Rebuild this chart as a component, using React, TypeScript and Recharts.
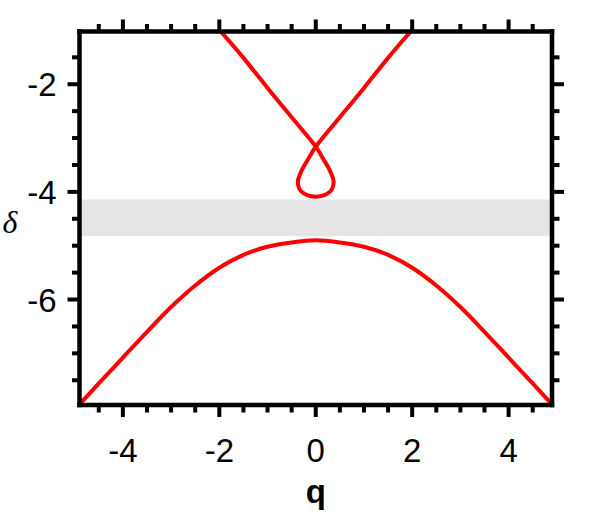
import React from 'react';
import { LineChart, Line, XAxis, YAxis, ReferenceArea, Label } from 'recharts';

// Upper curve (loop), traversed in order
const upperQ = [-1.97, -1.5, -1.0, -0.53, -0.25, 0, 0.15, 0.25, 0.33, 0.37, 0.35, 0.29, 0.18, 0, -0.18, -0.29, -0.35, -0.37, -0.33, -0.25, -0.15, 0, 0.25, 0.53, 1.0, 1.5, 1.97];
const upperD = [-1.02, -1.51, -2.07, -2.58, -2.88, -3.16, -3.38, -3.53, -3.68, -3.8, -3.92, -4.0, -4.06, -4.09, -4.06, -4.0, -3.92, -3.8, -3.68, -3.53, -3.38, -3.16, -2.88, -2.58, -2.07, -1.51, -1.02];

// Lower curve
const lowerQ = [-4.9, -4.5, -4.0, -3.5, -3.0, -2.5, -2.0, -1.5, -1.0, -0.5, 0, 0.5, 1.0, 1.5, 2.0, 2.5, 3.0, 3.5, 4.0, 4.5, 4.9];
const lowerD = [-7.95, -7.56, -7.08, -6.6, -6.14, -5.74, -5.41, -5.17, -5.02, -4.94, -4.9, -4.94, -5.02, -5.17, -5.41, -5.74, -6.14, -6.6, -7.08, -7.56, -7.95];

// Gray band
const bandLow = -4.826;
const bandHigh = -4.143;

const xDomain = [-4.9, 4.9];
const yDomain = [-7.96, -1.02];
const xTicks = [-4.5, -4, -3.5, -3, -2.5, -2, -1.5, -1, -0.5, 0, 0.5, 1, 1.5, 2, 2.5, 3, 3.5, 4, 4.5];
const yTicks = [-7.5, -7, -6.5, -6, -5.5, -5, -4.5, -4, -3.5, -3, -2.5, -2, -1.5];

const upperData = upperQ.map((q, i) => ({ q, d: upperD[i] }));
const lowerData = lowerQ.map((q, i) => ({ q, d: lowerD[i] }));

const FONT = '"Liberation Sans", Arial, sans-serif';
const isMajor = (v: number) => Number.isInteger(v) && v % 2 === 0;

const makeTick = (side: string, labels: boolean) => (props: any) => {
  const { x, y, payload } = props;
  const v = payload.value;
  const major = isMajor(v);
  const len = major ? 12 : 7.5;
  let x2 = x, y2 = y;
  if (side === 'bottom') y2 = y + len;
  if (side === 'top') y2 = y - len;
  if (side === 'left') x2 = x - len;
  if (side === 'right') x2 = x + len;
  const showLabel = labels && major;
  return (
    <g>
      <line x1={x} y1={y} x2={x2} y2={y2} stroke="#000" strokeWidth={4} />
      {showLabel && side === 'bottom' && (
        <text x={x} y={y + 57} textAnchor="middle" fontFamily={FONT} fontSize={33} fill="#000">{String(v)}</text>
      )}
      {showLabel && side === 'left' && (
        <text x={x - 23} y={y + 12} textAnchor="end" fontFamily={FONT} fontSize={33} fill="#000">{String(v)}</text>
      )}
    </g>
  );
};

const axisLineStyle = { stroke: '#000', strokeWidth: 4.5, strokeLinecap: 'square' as const };

export default function App() {
  return (
    <div style={{ position: 'absolute', left: 0, top: 0, background: '#fff' }}>
      <LineChart width={606} height={517} margin={{ top: 0, right: 0, bottom: 0, left: 0 }}>
        <XAxis
          xAxisId={0}
          dataKey="q"
          type="number"
          domain={xDomain}
          allowDataOverflow
          ticks={xTicks}
          interval={0}
          orientation="bottom"
          height={112}
          tickSize={0}
          tickMargin={0}
          tickLine={false}
          axisLine={axisLineStyle}
          tick={makeTick('bottom', true)}
        >
          <Label
            content={(p: any) => {
              const vb = p.viewBox || { x: 79.5, y: 405, width: 472.5 };
              return (
                <text x={vb.x + vb.width / 2} y={vb.y + 98} textAnchor="middle" fontFamily={FONT} fontWeight="bold" fontSize={33} fill="#000">q</text>
              );
            }}
          />
        </XAxis>
        <XAxis
          xAxisId="top"
          dataKey="q"
          type="number"
          domain={xDomain}
          allowDataOverflow
          ticks={xTicks}
          interval={0}
          orientation="top"
          height={31.5}
          tickSize={0}
          tickMargin={0}
          tickLine={false}
          axisLine={axisLineStyle}
          tick={makeTick('top', false)}
        />
        <YAxis
          yAxisId={0}
          type="number"
          domain={yDomain}
          allowDataOverflow
          ticks={yTicks}
          interval={0}
          orientation="left"
          width={79.5}
          tickSize={0}
          tickMargin={0}
          tickLine={false}
          axisLine={axisLineStyle}
          tick={makeTick('left', true)}
        >
          <Label
            content={() => (
              <text x={10} y={233} textAnchor="middle" fontFamily='"Liberation Serif", "Times New Roman", serif' fontStyle="italic" fontSize={32} fill="#000">δ</text>
            )}
          />
        </YAxis>
        <YAxis
          yAxisId="right"
          type="number"
          domain={yDomain}
          allowDataOverflow
          ticks={yTicks}
          interval={0}
          orientation="right"
          width={54}
          tickSize={0}
          tickMargin={0}
          tickLine={false}
          axisLine={axisLineStyle}
          tick={makeTick('right', false)}
        />
        <ReferenceArea
          xAxisId={0}
          yAxisId={0}
          x1={xDomain[0]}
          x2={xDomain[1]}
          y1={bandLow}
          y2={bandHigh}
          fill="#e5e5e5"
          fillOpacity={1}
          stroke="none"
          ifOverflow="hidden"
        />
        <Line
          xAxisId={0}
          yAxisId={0}
          data={lowerData}
          dataKey="d"
          type="monotone"
          stroke="#ff0000"
          strokeWidth={4}
          dot={false}
          activeDot={false}
          isAnimationActive={false}
        />
        <Line
          xAxisId={0}
          yAxisId={0}
          data={upperData}
          dataKey="d"
          type="natural"
          stroke="#ff0000"
          strokeWidth={4}
          dot={false}
          activeDot={false}
          isAnimationActive={false}
        />
      </LineChart>
    </div>
  );
}
